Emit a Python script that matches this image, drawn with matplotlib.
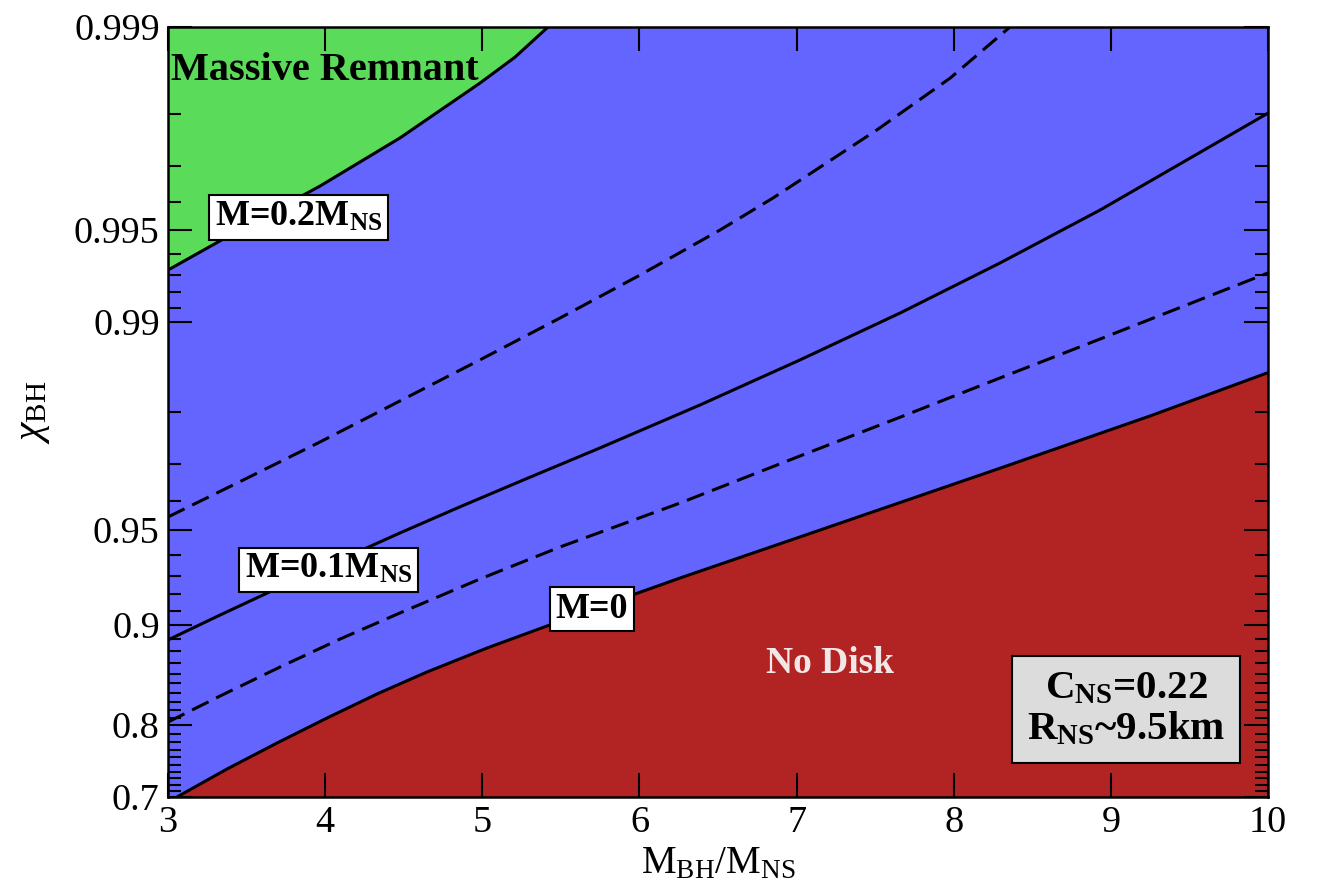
import numpy as np
import matplotlib
matplotlib.use("Agg")
import matplotlib.pyplot as plt
from matplotlib.ticker import FixedLocator, FixedFormatter, NullFormatter

plt.rcParams['font.family'] = ['Liberation Serif', 'DejaVu Serif']
plt.rcParams['mathtext.fontset'] = 'custom'
plt.rcParams['mathtext.rm'] = 'Liberation Serif'
plt.rcParams['mathtext.it'] = 'Liberation Serif:italic'
plt.rcParams['mathtext.bf'] = 'Liberation Serif:bold'

# y tick values and where they sit (fraction of axis height) -> defines the axis scale
chi_ticks = [0.7, 0.8, 0.9, 0.95, 0.99, 0.995, 0.999]
tick_frac = [0.0, 0.0935, 0.2234, 0.3468, 0.6169, 0.7364, 1.0]
chi_minor = [0.71, 0.72, 0.73, 0.74, 0.75, 0.76, 0.77, 0.78, 0.79,
             0.81, 0.82, 0.83, 0.84, 0.85, 0.86, 0.87, 0.88, 0.89,
             0.91, 0.92, 0.93, 0.94, 0.96, 0.97, 0.98,
             0.991, 0.992, 0.993, 0.994, 0.996, 0.997, 0.998]

# contour curves (q = M_BH/M_NS, chi_BH)
q_m0 = [3.057, 3.375, 3.694, 4.012, 4.330, 4.648, 5.030, 5.412, 5.794, 6.258,
        7.022, 8.295, 9.249, 10.0]
chi_m0 = [0.700, 0.7437, 0.7787, 0.8095, 0.8387, 0.8615, 0.8827, 0.8993, 0.9142,
          0.9290, 0.9474, 0.9690, 0.9793, 0.9852]

q_m005 = [3.0, 3.331, 3.713, 4.095, 4.476, 4.985, 5.495, 6.258, 7.022, 7.658,
          8.295, 8.931, 10.0]
chi_m005 = [0.8041, 0.8364, 0.8662, 0.8898, 0.9084, 0.9285, 0.9434, 0.9594, 0.9718,
            0.9791, 0.98458, 0.98859, 0.99309]

q_m01 = [3.0, 3.331, 3.713, 4.095, 4.476, 4.858, 5.259, 5.749, 6.386, 7.022,
         7.658, 8.295, 8.931, 10.0]
chi_m01 = [0.8891, 0.9070, 0.9242, 0.9378, 0.9489, 0.9582, 0.9660, 0.9735, 0.9810,
           0.98659, 0.99065, 0.99359, 0.99573, 0.99802]

q_m015 = [3.0, 3.477, 3.967, 4.476, 4.985, 5.495, 6.004, 6.513, 6.850, 7.512,
          7.977, 8.358]
chi_m015 = [0.9548, 0.9660, 0.97469, 0.98158, 0.98659, 0.99030, 0.99298, 0.995,
            0.99612, 0.99774, 0.99850, 0.999]

q_m02 = [3.0, 3.522, 3.967, 4.476, 4.985, 5.208, 5.418]
chi_m02 = [0.99324, 0.99523, 0.99647, 0.99759, 0.99844, 0.99873, 0.999]

S_ANCH = -np.log10(1 - np.array(chi_ticks))
F_ANCH = np.array(tick_frac)


def fwd(chi):
    chi = np.clip(np.asarray(chi, dtype=float), -10, 0.9999999)
    s = -np.log10(1 - chi)
    return np.interp(s, S_ANCH, F_ANCH)


def inv(f):
    f = np.asarray(f, dtype=float)
    s = np.interp(f, F_ANCH, S_ANCH)
    return 1 - 10 ** (-s)


BLUE = '#6464FF'
RED = '#B22424'
GREEN = '#5ADC5A'

fig = plt.figure(figsize=(13.17, 8.91), dpi=100)
ax = fig.add_axes([0.1276, 0.1055, 0.8352, 0.8642])
ax.set_yscale('function', functions=(fwd, inv))
ax.set_facecolor(BLUE)

ax.fill_between(q_m0, 0.7, chi_m0, color=RED, lw=0, zorder=1)
ax.fill_between(q_m02, chi_m02, 0.999, color=GREEN, lw=0, zorder=1)

lw = 2.2
for qq, cc in [(q_m0, chi_m0), (q_m01, chi_m01), (q_m02, chi_m02)]:
    ax.plot(qq, cc, color='black', lw=lw, zorder=3, solid_joinstyle='round')
for qq, cc in [(q_m005, chi_m005), (q_m015, chi_m015)]:
    ax.plot(qq, cc, color='black', lw=lw, dashes=(6, 2.8), zorder=3)

ax.set_xlim(3, 10)
ax.set_ylim(0.7, 0.999)

ax.yaxis.set_major_locator(FixedLocator(chi_ticks))
ax.yaxis.set_major_formatter(FixedFormatter([str(c) for c in chi_ticks]))
ax.yaxis.set_minor_locator(FixedLocator(chi_minor))
ax.yaxis.set_minor_formatter(NullFormatter())
ax.set_xticks(range(3, 11))
ax.tick_params(which='both', direction='in', top=True, right=True,
               width=1.5, labelsize=27.5, pad=6)
ax.tick_params(which='major', length=17)
ax.tick_params(which='minor', length=9.5)
for sp in ax.spines.values():
    sp.set_linewidth(1.8)

ax.set_xlabel(r'M$_{\rm BH}$/M$_{\rm NS}$', fontsize=28, labelpad=4)
ax.set_ylabel(r'$\chi_{\rm BH}$', fontsize=30, labelpad=16)

box = dict(boxstyle='square,pad=0.16', facecolor='white', edgecolor='black', lw=1.5)
ax.text(0.119, 0.753, r'M=0.2M$_\mathbf{NS}$', transform=ax.transAxes, fontsize=26,
        fontweight='bold', ha='center', va='center', bbox=box, zorder=5)
ax.text(0.146, 0.295, r'M=0.1M$_\mathbf{NS}$', transform=ax.transAxes, fontsize=26,
        fontweight='bold', ha='center', va='center', bbox=box, zorder=5)
ax.text(0.385, 0.244, 'M=0', transform=ax.transAxes, fontsize=26,
        fontweight='bold', ha='center', va='center', bbox=box, zorder=5)

ax.text(0.003, 0.944, 'Massive Remnant', transform=ax.transAxes, fontsize=29,
        fontweight='bold', ha='left', va='center', zorder=5)
ax.text(0.602, 0.174, 'No Disk', transform=ax.transAxes, fontsize=27,
        fontweight='bold', color='#F2E6E6', ha='center', va='center', zorder=5)

ax.text(0.871, 0.114, 'C$_\\mathbf{NS}$=0.22\nR$_\\mathbf{NS}$~9.5km',
        transform=ax.transAxes, fontsize=29.5, fontweight='bold', ha='center',
        va='center', linespacing=1.1, zorder=5,
        bbox=dict(boxstyle='square,pad=0.36', facecolor='#DCDCDC', edgecolor='black', lw=1.5))

fig.savefig('out.png', dpi=100)
